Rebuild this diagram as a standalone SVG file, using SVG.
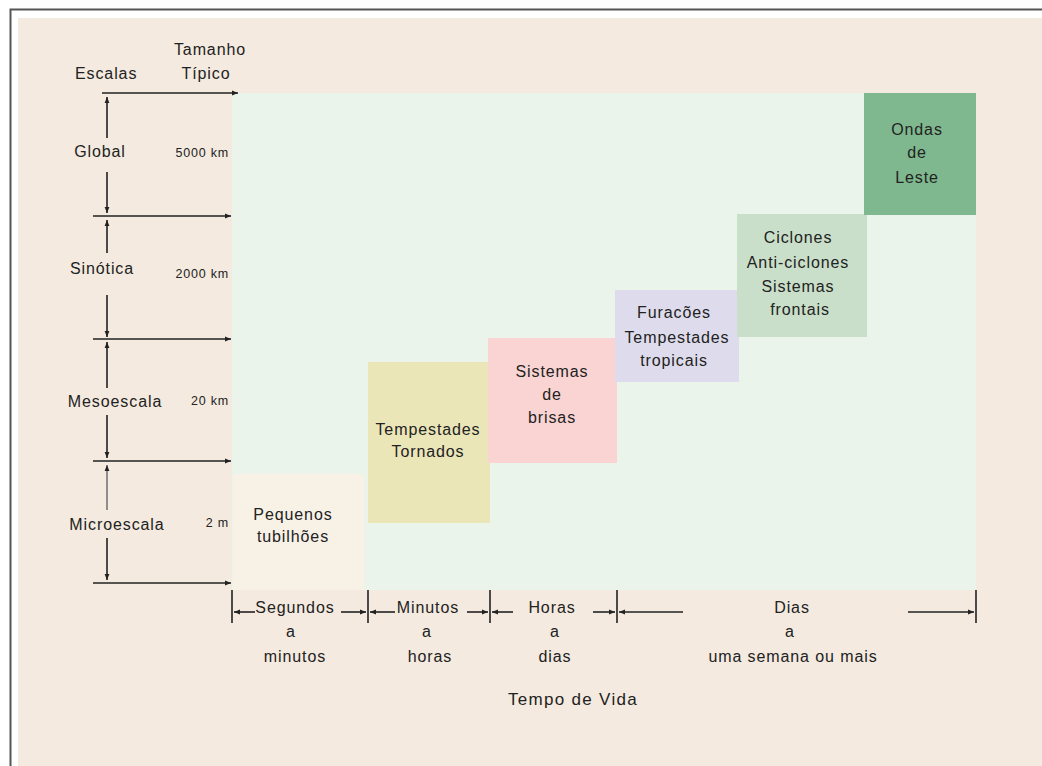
<svg xmlns="http://www.w3.org/2000/svg" width="1042" height="766" viewBox="0 0 1042 766">
<style>
text{font-family:"Liberation Sans",Arial,sans-serif;fill:#222;}
.t{font-size:16px;letter-spacing:0.9px;}
.m{text-anchor:middle;}
.s{font-size:12.5px;letter-spacing:0.8px;text-anchor:end;}
.ln{stroke:#222;stroke-width:1.6;fill:none;}
</style>
<defs>
<marker id="ah" viewBox="0 0 10 10" refX="10" refY="5" markerWidth="8" markerHeight="6" markerUnits="userSpaceOnUse" orient="auto-start-reverse">
<path d="M0,1 L10,5 L0,9 z" fill="#222"/>
</marker>
</defs>
<rect x="0" y="0" width="1042" height="766" fill="#ffffff"/>
<rect x="18" y="18" width="1024" height="748" fill="#f4eadf"/>
<path d="M10.5,766 V9.5 H1042" fill="none" stroke="#555" stroke-width="2"/>
<rect x="232" y="93" width="744" height="497" fill="#ebf4eb"/>

<g id="pequenos"><rect x="233" y="474" width="131" height="116" fill="#f8f1e6"/><text class="t m" x="293" y="520">Pequenos</text><text class="t m" x="293" y="542">tubilhões</text></g>
<g id="tempestades"><rect x="368" y="362" width="122" height="161" fill="#ebe6b8"/><text class="t m" x="428" y="435">Tempestades</text><text class="t m" x="428" y="457">Tornados</text></g>
<g id="brisas"><rect x="488" y="338" width="129" height="125" fill="#fad4d2"/><text class="t m" x="552" y="377">Sistemas</text><text class="t m" x="552" y="400">de</text><text class="t m" x="552" y="423">brisas</text></g>
<g id="furacoes"><rect x="615" y="290" width="124" height="92" fill="#dedcec"/><text class="t m" x="674" y="318">Furacões</text><text class="t m" x="677" y="343">Tempestades</text><text class="t m" x="674" y="366">tropicais</text></g>
<g id="ciclones"><rect x="737" y="214" width="130" height="123" fill="#c9dfc9"/><text class="t m" x="798" y="243">Ciclones</text><text class="t m" x="798" y="268">Anti-ciclones</text><text class="t m" x="798" y="292">Sistemas</text><text class="t m" x="800" y="315">frontais</text></g>
<g id="ondas"><rect x="864" y="93" width="112" height="122" fill="#7fb88e"/><text class="t m" x="917" y="135">Ondas</text><text class="t m" x="917" y="158">de</text><text class="t m" x="917" y="183">Leste</text></g>

<g id="eixo-escalas">
<text class="t" x="75" y="79">Escalas</text>
<text class="t m" x="210" y="55">Tamanho</text>
<text class="t m" x="206" y="79">Típico</text>
<text class="t m" x="100" y="157">Global</text>
<text class="t m" x="102" y="274">Sinótica</text>
<text class="t m" x="115" y="407">Mesoescala</text>
<text class="t m" x="117" y="530">Microescala</text>
<text class="s" x="229" y="157">5000 km</text>
<text class="s" x="229" y="278">2000 km</text>
<text class="s" x="229" y="405">20 km</text>
<text class="s" x="229" y="527">2 m</text>
</g>

<g id="eixo-tempo">
<text class="t m" x="295" y="613">Segundos</text><text class="t m" x="291" y="637">a</text><text class="t m" x="295" y="662">minutos</text>
<text class="t m" x="428" y="613">Minutos</text><text class="t m" x="427" y="637">a</text><text class="t m" x="430" y="662">horas</text>
<text class="t m" x="552" y="613">Horas</text><text class="t m" x="555" y="637">a</text><text class="t m" x="555" y="662">dias</text>
<text class="t m" x="792" y="613">Dias</text><text class="t m" x="790" y="637">a</text><text class="t m" x="793" y="662">uma semana ou mais</text>
<text class="t m" x="573" y="705" style="font-size:17px;letter-spacing:1.3px">Tempo de Vida</text>
</g>

<g id="connectors">
<line class="ln" x1="102" y1="93" x2="238" y2="93" marker-end="url(#ah)"/>
<line class="ln" x1="93" y1="216" x2="231" y2="216" marker-end="url(#ah)"/>
<line class="ln" x1="93" y1="339" x2="231" y2="339" marker-end="url(#ah)"/>
<line class="ln" x1="93" y1="461" x2="231" y2="461" marker-end="url(#ah)"/>
<line class="ln" x1="93" y1="583" x2="231" y2="583" marker-end="url(#ah)"/>
<line class="ln" x1="107" y1="138" x2="107" y2="97" marker-end="url(#ah)"/>
<line class="ln" x1="107" y1="172" x2="107" y2="213" marker-end="url(#ah)"/>
<line class="ln" x1="107" y1="253" x2="107" y2="220" marker-end="url(#ah)"/>
<line class="ln" x1="107" y1="295" x2="107" y2="337" marker-end="url(#ah)"/>
<line class="ln" x1="107" y1="388" x2="107" y2="342" marker-end="url(#ah)"/>
<line class="ln" x1="107" y1="415" x2="107" y2="458" marker-end="url(#ah)"/>
<line class="ln" x1="107" y1="510" x2="107" y2="465" marker-end="url(#ah)" style="stroke:#777"/>
<line class="ln" x1="107" y1="538" x2="107" y2="580" marker-end="url(#ah)"/>
<line class="ln" x1="232" y1="590" x2="232" y2="623"/>
<line class="ln" x1="368" y1="590" x2="368" y2="623"/>
<line class="ln" x1="490" y1="590" x2="490" y2="623"/>
<line class="ln" x1="617" y1="590" x2="617" y2="623"/>
<line class="ln" x1="976" y1="590" x2="976" y2="623"/>
<line class="ln" x1="255" y1="612" x2="234" y2="612" marker-end="url(#ah)"/>
<line class="ln" x1="341" y1="612" x2="366" y2="612" marker-end="url(#ah)"/>
<line class="ln" x1="395" y1="612" x2="370" y2="612" marker-end="url(#ah)"/>
<line class="ln" x1="467" y1="612" x2="488" y2="612" marker-end="url(#ah)"/>
<line class="ln" x1="513" y1="612" x2="492" y2="612" marker-end="url(#ah)"/>
<line class="ln" x1="593" y1="612" x2="615" y2="612" marker-end="url(#ah)"/>
<line class="ln" x1="683" y1="612" x2="619" y2="612" marker-end="url(#ah)"/>
<line class="ln" x1="908" y1="612" x2="974" y2="612" marker-end="url(#ah)"/>
</g>
</svg>
